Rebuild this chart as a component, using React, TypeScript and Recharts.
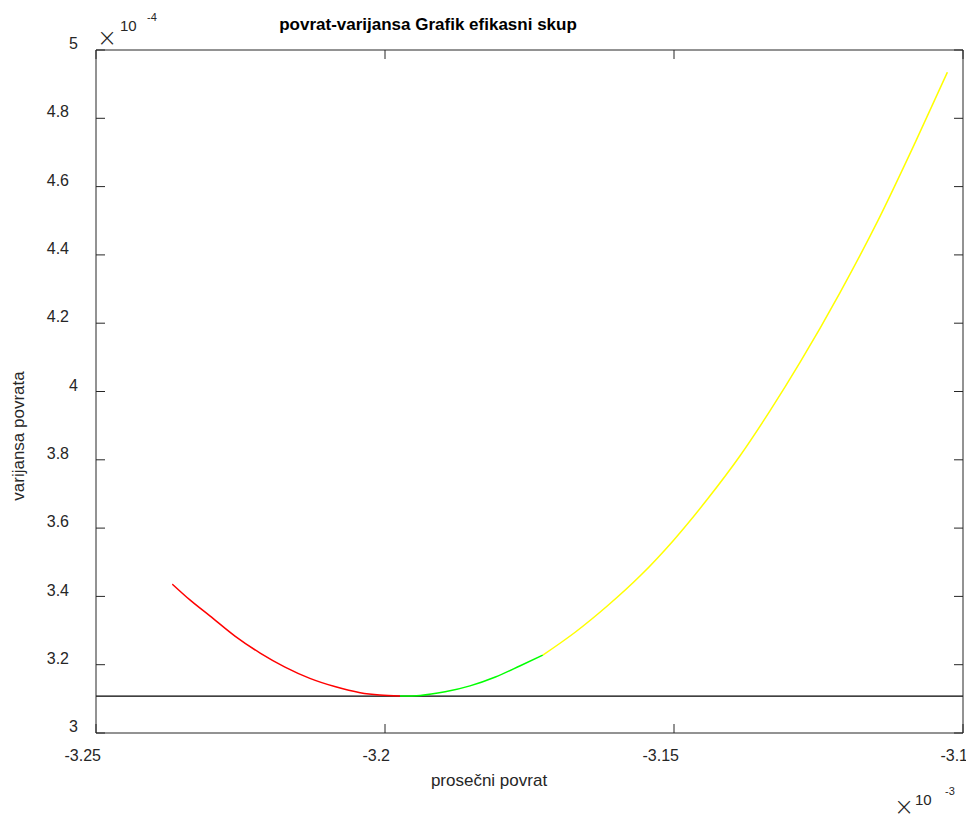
import React from 'react';
import { LineChart, Line, XAxis, YAxis, ReferenceLine } from 'recharts';

const xTicks = [-3.25, -3.2, -3.15, -3.1];
const yTicks = [3, 3.2, 3.4, 3.6, 3.8, 4, 4.2, 4.4, 4.6, 4.8, 5];

// inefficient part (below the minimum variance point)
const redReturn = [-3.2368, -3.2337, -3.2303, -3.2259, -3.2216, -3.2173, -3.213, -3.2087, -3.2043, -3.2009, -3.1974];
const redVariance = [3.436, 3.389, 3.343, 3.283, 3.234, 3.193, 3.16, 3.136, 3.118, 3.111, 3.108];
// efficient set, first part
const greenReturn = [-3.1974, -3.1939, -3.1896, -3.1853, -3.1809, -3.1766, -3.1727];
const greenVariance = [3.108, 3.11, 3.1205, 3.138, 3.164, 3.197, 3.228];
// efficient set, rest
const yellowReturn = [-3.1727, -3.1671, -3.1616, -3.1558, -3.1501, -3.1442, -3.1386, -3.1334, -3.1282, -3.1213, -3.1147, -3.1083, -3.1027];
const yellowVariance = [3.228, 3.295, 3.371, 3.461, 3.564, 3.685, 3.811, 3.943, 4.085, 4.289, 4.501, 4.728, 4.935];

const minVariance = 3.108;

const toPoints = (xs: number[], ys: number[]) => xs.map((x, i) => ({ x, y: ys[i] }));

const redData = toPoints(redReturn, redVariance);
const greenData = toPoints(greenReturn, greenVariance);
const yellowData = toPoints(yellowReturn, yellowVariance);

const AXIS = '#262626';
const FONT = '"Liberation Sans", Arial, Helvetica, sans-serif';
const TICK_LEN = 9;

const BottomTick = ({ x, y, payload }: any) => (
  <g>
    <line x1={x} y1={y} x2={x} y2={y - TICK_LEN} stroke={AXIS} />
    <text x={x + 5} y={y + 22} dy="0.35em" textAnchor="end" fontSize={16} fill={AXIS} fontFamily={FONT}>
      {payload.value}
    </text>
  </g>
);

const TopTick = ({ x, y }: any) => (
  <line x1={x} y1={y} x2={x} y2={y + TICK_LEN} stroke={AXIS} />
);

const LeftTick = ({ x, y, payload }: any) => {
  const v = payload.value as number;
  const off = Number.isInteger(v) ? 18 : 27;
  return (
    <g>
      <line x1={x} y1={y} x2={x + TICK_LEN} y2={y} stroke={AXIS} />
      <text x={x - off} y={y - 6.5} dy="0.35em" textAnchor="end" fontSize={16} fill={AXIS} fontFamily={FONT}>
        {v}
      </text>
    </g>
  );
};

const RightTick = ({ x, y }: any) => (
  <line x1={x} y1={y} x2={x - TICK_LEN} y2={y} stroke={AXIS} />
);

const CROSS_FONT = '"DejaVu Sans", "Liberation Sans", sans-serif';

export default function App() {
  return (
    <div style={{ position: 'absolute', left: 0, top: 0, width: 966, height: 816, background: '#fff' }}>
      <LineChart width={966} height={816} margin={{ top: 49, right: 2, bottom: 82, left: 95 }}>
        <XAxis
          type="number"
          dataKey="x"
          domain={[-3.25, -3.1]}
          ticks={xTicks}
          interval={0}
          allowDataOverflow
          height={1}
          tickSize={0}
          tickMargin={0}
          tickLine={false}
          axisLine={{ stroke: AXIS }}
          tick={(p: any) => <BottomTick {...p} />}
        />
        <XAxis
          xAxisId="top"
          orientation="top"
          type="number"
          dataKey="x"
          domain={[-3.25, -3.1]}
          ticks={xTicks}
          interval={0}
          allowDataOverflow
          height={1}
          tickSize={0}
          tickMargin={0}
          tickLine={false}
          axisLine={{ stroke: AXIS }}
          tick={(p: any) => <TopTick {...p} />}
        />
        <YAxis
          type="number"
          domain={[3, 5]}
          ticks={yTicks}
          interval={0}
          allowDataOverflow
          width={1}
          tickSize={0}
          tickMargin={0}
          tickLine={false}
          axisLine={{ stroke: AXIS }}
          tick={(p: any) => <LeftTick {...p} />}
        />
        <YAxis
          yAxisId="right"
          orientation="right"
          type="number"
          domain={[3, 5]}
          ticks={yTicks}
          interval={0}
          allowDataOverflow
          width={1}
          tickSize={0}
          tickMargin={0}
          tickLine={false}
          axisLine={{ stroke: AXIS }}
          tick={(p: any) => <RightTick {...p} />}
        />
        <ReferenceLine y={minVariance} stroke="#000" strokeWidth={1.3} />
        <Line data={redData} dataKey="y" type="monotone" stroke="#ff0000" strokeWidth={1.5} dot={false} isAnimationActive={false} />
        <Line data={greenData} dataKey="y" type="monotone" stroke="#00ff00" strokeWidth={1.5} dot={false} isAnimationActive={false} />
        <Line data={yellowData} dataKey="y" type="monotone" stroke="#ffff00" strokeWidth={1.5} dot={false} isAnimationActive={false} />
      </LineChart>
      <svg width={966} height={816} style={{ position: 'absolute', left: 0, top: 0, pointerEvents: 'none' }} fontFamily={FONT}>
        <text x={428} y={30} textAnchor="middle" fontSize={17} fontWeight="bold" fill="#000">
          povrat-varijansa Grafik efikasni skup
        </text>
        <text x={489} y={786} textAnchor="middle" fontSize={17} fill={AXIS}>
          prosečni povrat
        </text>
        <text x={24} y={436} textAnchor="middle" fontSize={17} fill={AXIS} transform="rotate(-90 24 436)">
          varijansa povrata
        </text>
        <text x={97} y={46} fontSize={24} fontWeight={200} fontFamily={CROSS_FONT} fill={AXIS}>×</text>
        <text x={120} y={31} fontSize={15} fill={AXIS}>10</text>
        <text x={147} y={20.5} fontSize={11} fill={AXIS}>-4</text>
        <text x={894} y={815} fontSize={24} fontWeight={200} fontFamily={CROSS_FONT} fill={AXIS}>×</text>
        <text x={915} y={805} fontSize={15} fill={AXIS}>10</text>
        <text x={945} y={795} fontSize={11} fill={AXIS}>-3</text>
      </svg>
    </div>
  );
}
